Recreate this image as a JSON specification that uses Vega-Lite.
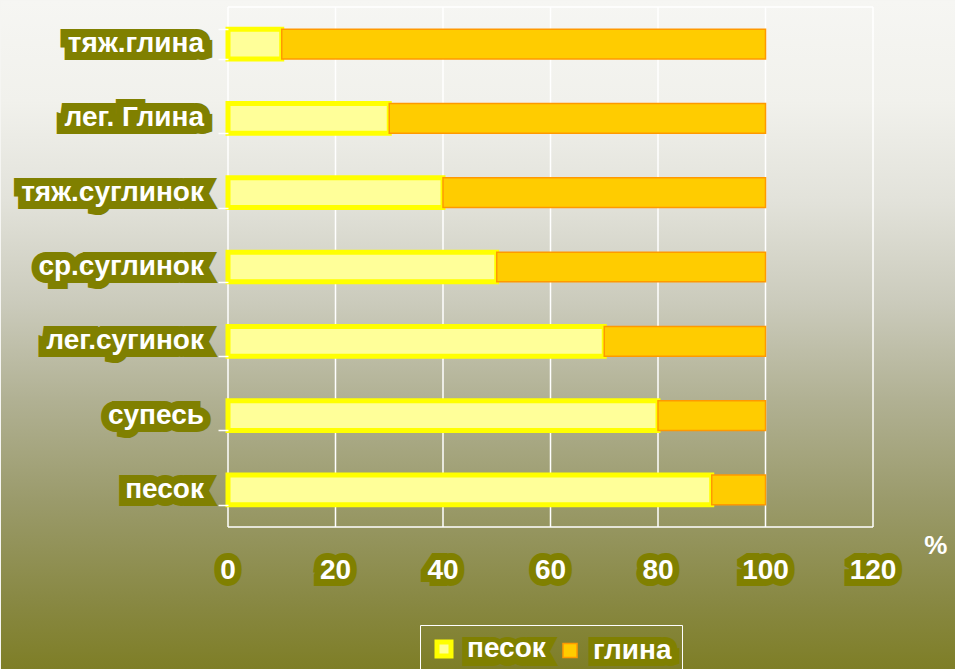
{
  "$schema": "https://vega.github.io/schema/vega-lite/v6.json",
  "width": 645,
  "height": 520,
  "padding": 0,
  "background": "#F5F5F2",
  "config": {"view": {"stroke": null}},
  "datasets": {
    "soil": [
      {"soil": "тяж.глина", "type": "песок", "value": 10},
      {"soil": "тяж.глина", "type": "глина", "value": 90},
      {"soil": "лег. Глина", "type": "песок", "value": 30},
      {"soil": "лег. Глина", "type": "глина", "value": 70},
      {"soil": "тяж.суглинок", "type": "песок", "value": 40},
      {"soil": "тяж.суглинок", "type": "глина", "value": 60},
      {"soil": "ср.суглинок", "type": "песок", "value": 50},
      {"soil": "ср.суглинок", "type": "глина", "value": 50},
      {"soil": "лег.сугинок", "type": "песок", "value": 70},
      {"soil": "лег.сугинок", "type": "глина", "value": 30},
      {"soil": "супесь", "type": "песок", "value": 80},
      {"soil": "супесь", "type": "глина", "value": 20},
      {"soil": "песок", "type": "песок", "value": 90},
      {"soil": "песок", "type": "глина", "value": 10}
    ],
    "ticks": [{"v": 0}, {"v": 20}, {"v": 40}, {"v": 60}, {"v": 80}, {"v": 100}, {"v": 120}]
  },
  "resolve": {"scale": {"y": "independent"}, "axis": {"y": "independent"}},
  "layer": [
    {
      "data": {"values": [{}]},
      "mark": {"type": "rect", "fill": {"gradient": "linear", "x1": 0, "y1": 0, "x2": 0, "y2": 1, "stops": [
        {"offset": 0, "color": "#F6F6F3"},
        {"offset": 0.15, "color": "#F1F1EC"},
        {"offset": 0.3, "color": "#E2E2DA"},
        {"offset": 0.45, "color": "#CBCBBC"},
        {"offset": 0.6, "color": "#B0B092"},
        {"offset": 0.75, "color": "#9A9A6A"},
        {"offset": 0.9, "color": "#888842"},
        {"offset": 1, "color": "#7E7E26"}
      ]}},
      "encoding": {
        "x": {"datum": -42.233, "type": "quantitative", "scale": {"domain": [0, 120], "nice": false, "zero": false}, "axis": null},
        "x2": {"datum": 135.44},
        "y": {"datum": -0.275, "type": "quantitative", "scale": {"domain": [0, 1], "nice": false, "zero": false}, "axis": null},
        "y2": {"datum": 1.0116}
      }
    },
    {
      "data": {"name": "ticks"},
      "mark": {"type": "rule", "color": "white", "strokeWidth": 1.5},
      "encoding": {
        "x": {"field": "v", "type": "quantitative", "scale": {"domain": [0, 120], "nice": false, "zero": false}, "axis": null}
      }
    },
    {
      "data": {"values": [{}]},
      "mark": {"type": "rule", "color": "white", "strokeWidth": 1.5},
      "encoding": {
        "y": {"datum": 1, "type": "quantitative", "scale": {"domain": [0, 1], "nice": false, "zero": false}, "axis": null}
      }
    },
    {
      "data": {"values": [{}]},
      "mark": {"type": "rule", "color": "white", "strokeWidth": 1.5},
      "encoding": {
        "y": {"datum": 0, "type": "quantitative", "scale": {"domain": [0, 1], "nice": false, "zero": false}, "axis": null}
      }
    },
    {
      "data": {"name": "soil"},
      "transform": [{"filter": "datum.type == 'песок'"}],
      "mark": {"type": "text", "align": "right", "baseline": "middle", "font": "Liberation Sans", "fontWeight": "bold", "fontSize": 28, "fill": "#808000", "stroke": "#808000", "strokeWidth": 16, "strokeJoin": "miter", "strokeMiterLimit": 2},
      "encoding": {
        "x": {"datum": -4.47, "type": "quantitative", "scale": {"domain": [0, 120], "nice": false, "zero": false}, "axis": null},
        "y": {"field": "soil", "type": "nominal", "sort": null, "scale": {"paddingInner": 0.6, "paddingOuter": 0.3}, "axis": null},
        "text": {"field": "soil"}
      }
    },
    {
      "data": {"name": "soil"},
      "transform": [{"filter": "datum.type == 'песок'"}],
      "mark": {"type": "text", "align": "right", "baseline": "middle", "font": "Liberation Sans", "fontWeight": "bold", "fontSize": 28, "fill": "white"},
      "encoding": {
        "x": {"datum": -4.47, "type": "quantitative", "scale": {"domain": [0, 120], "nice": false, "zero": false}, "axis": null},
        "y": {"field": "soil", "type": "nominal", "sort": null, "scale": {"paddingInner": 0.6, "paddingOuter": 0.3}, "axis": null},
        "text": {"field": "soil"}
      }
    },
    {
      "data": {"name": "ticks"},
      "mark": {"type": "text", "align": "center", "baseline": "middle", "font": "Liberation Sans", "fontWeight": "bold", "fontSize": 28, "fill": "#808000", "stroke": "#808000", "strokeWidth": 14, "strokeJoin": "miter", "strokeMiterLimit": 2},
      "encoding": {
        "x": {"field": "v", "type": "quantitative", "scale": {"domain": [0, 120], "nice": false, "zero": false}, "axis": null},
        "y": {"datum": -0.0846, "type": "quantitative", "scale": {"domain": [0, 1], "nice": false, "zero": false}, "axis": null},
        "text": {"field": "v"}
      }
    },
    {
      "data": {"name": "ticks"},
      "mark": {"type": "text", "align": "center", "baseline": "middle", "font": "Liberation Sans", "fontWeight": "bold", "fontSize": 28, "fill": "white"},
      "encoding": {
        "x": {"field": "v", "type": "quantitative", "scale": {"domain": [0, 120], "nice": false, "zero": false}, "axis": null},
        "y": {"datum": -0.0846, "type": "quantitative", "scale": {"domain": [0, 1], "nice": false, "zero": false}, "axis": null},
        "text": {"field": "v"}
      }
    },
    {
      "data": {"values": [{}]},
      "mark": {"type": "text", "text": "%", "align": "center", "baseline": "middle", "font": "Liberation Sans", "fontWeight": "bold", "fontSize": 26, "fill": "white"},
      "encoding": {
        "x": {"datum": 131.7, "type": "quantitative", "scale": {"domain": [0, 120], "nice": false, "zero": false}, "axis": null},
        "y": {"datum": -0.0365, "type": "quantitative", "scale": {"domain": [0, 1], "nice": false, "zero": false}, "axis": null}
      }
    },
    {
      "data": {"values": [{}]},
      "mark": {"type": "text", "text": "песок", "align": "center", "baseline": "middle", "font": "Liberation Sans", "fontWeight": "bold", "fontSize": 28, "fill": "#808000", "stroke": "#808000", "strokeWidth": 14, "strokeJoin": "miter", "strokeMiterLimit": 2},
      "encoding": {
        "x": {"datum": 51.9, "type": "quantitative", "scale": {"domain": [0, 120], "nice": false, "zero": false}, "axis": null},
        "y": {"datum": -0.2385, "type": "quantitative", "scale": {"domain": [0, 1], "nice": false, "zero": false}, "axis": null}
      }
    },
    {
      "data": {"values": [{}]},
      "mark": {"type": "text", "text": "глина", "align": "center", "baseline": "middle", "font": "Liberation Sans", "fontWeight": "bold", "fontSize": 28, "fill": "#808000", "stroke": "#808000", "strokeWidth": 14, "strokeJoin": "miter", "strokeMiterLimit": 2},
      "encoding": {
        "x": {"datum": 75.35, "type": "quantitative", "scale": {"domain": [0, 120], "nice": false, "zero": false}, "axis": null},
        "y": {"datum": -0.2385, "type": "quantitative", "scale": {"domain": [0, 1], "nice": false, "zero": false}, "axis": null}
      }
    },
    {
      "data": {"name": "soil"},
      "mark": {"type": "bar"},
      "encoding": {
        "x": {"field": "value", "type": "quantitative", "stack": "zero", "scale": {"domain": [0, 120], "nice": false, "zero": false},
          "axis": {"values": [0, 20, 40, 60, 80, 100, 120], "labels": false, "domain": false, "grid": false, "ticks": true, "tickSize": 8, "tickColor": "white", "tickWidth": 1.5, "title": null, "zindex": 1}},
        "y": {"field": "soil", "type": "nominal", "sort": null, "scale": {"paddingInner": 0.6, "paddingOuter": 0.3},
          "axis": {"labels": false, "domain": false, "grid": false, "ticks": true, "tickBand": "extent", "tickSize": 10, "tickColor": "white", "tickWidth": 1.5, "title": null, "zindex": 1}},
        "order": {"field": "type", "sort": "descending"},
        "fill": {"field": "type", "type": "nominal", "scale": {"domain": ["песок", "глина"], "range": ["#FFFF99", "#FFCC00"]},
          "legend": {"orient": "none", "legendX": 192, "legendY": 618, "direction": "horizontal", "title": null, "symbolType": "square", "symbolSize": 196, "symbolStrokeWidth": 3, "labelFont": "Liberation Sans", "labelFontWeight": "bold", "labelFontSize": 28, "labelColor": "white", "labelOffset": 9, "columnPadding": 10, "padding": 10, "strokeColor": "white"}},
        "stroke": {"field": "type", "type": "nominal", "scale": {"domain": ["песок", "глина"], "range": ["#FFFF00", "#FF9900"]},
          "legend": {"orient": "none", "legendX": 192, "legendY": 618, "direction": "horizontal", "title": null, "symbolType": "square", "symbolSize": 196, "symbolStrokeWidth": 3, "labelFont": "Liberation Sans", "labelFontWeight": "bold", "labelFontSize": 28, "labelColor": "white", "labelOffset": 9, "columnPadding": 10, "padding": 10, "strokeColor": "white"}},
        "strokeWidth": {"field": "type", "type": "nominal", "scale": {"type": "ordinal", "domain": ["песок", "глина"], "range": [5, 1.5]}, "legend": null}
      }
    }
  ]
}
